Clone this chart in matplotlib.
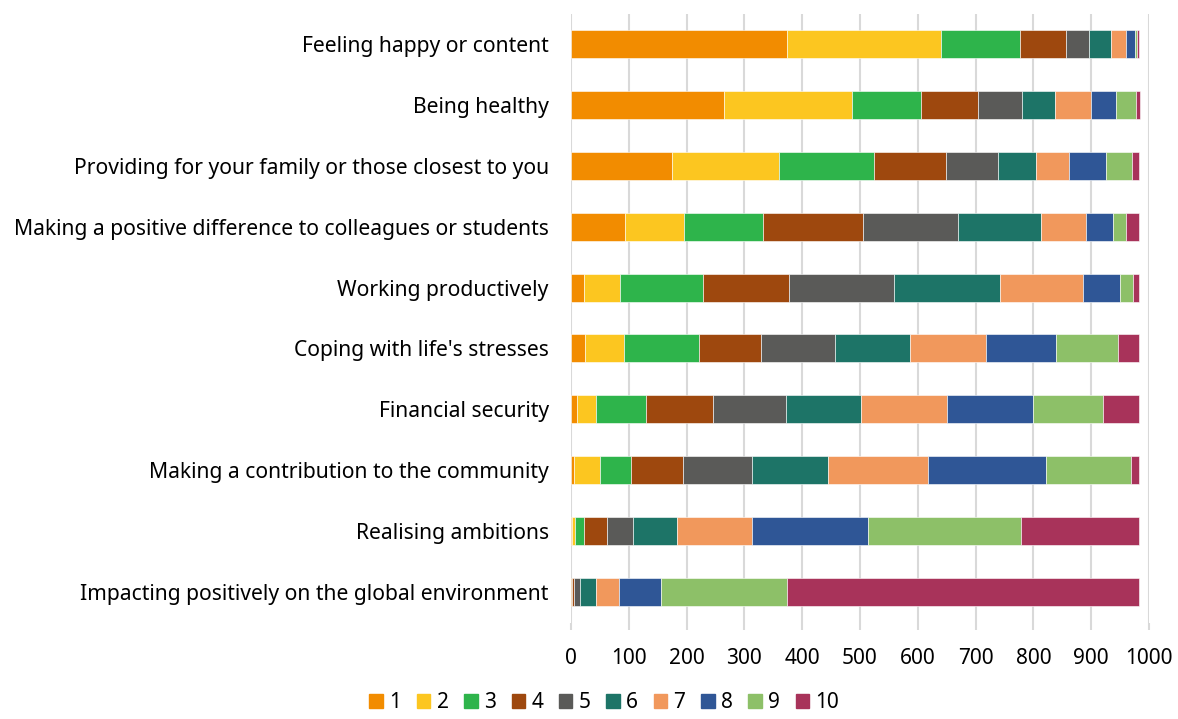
import matplotlib.pyplot as plt
from matplotlib.patches import Patch

plt.rcParams['font.family'] = ['Noto Sans', 'DejaVu Sans']

# Data
categories = [
    'Feeling happy or content',
    'Being healthy',
    'Providing for your family or those closest to you',
    'Making a positive difference to colleagues or students',
    'Working productively',
    "Coping with life's stresses",
    'Financial security',
    'Making a contribution to the community',
    'Realising ambitions',
    'Impacting positively on the global environment',
]
ranks = ['1', '2', '3', '4', '5', '6', '7', '8', '9', '10']

# counts per rank (columns) for each category (rows)
rank_1 = [374, 264, 175, 94, 23, 25, 11, 6, 1, 1]
rank_2 = [266, 223, 185, 102, 62, 66, 33, 45, 6, 0]
rank_3 = [136, 119, 165, 137, 143, 130, 86, 53, 16, 1]
rank_4 = [80, 98, 124, 173, 150, 107, 115, 90, 39, 3]
rank_5 = [40, 77, 89, 164, 180, 129, 127, 120, 45, 10]
rank_6 = [39, 57, 66, 143, 184, 130, 129, 130, 77, 29]
rank_7 = [25, 61, 58, 78, 144, 131, 149, 173, 129, 39]
rank_8 = [16, 44, 63, 46, 63, 121, 150, 205, 201, 72]
rank_9 = [4, 34, 46, 23, 23, 107, 120, 146, 265, 219]
rank_10 = [3, 7, 12, 23, 11, 37, 63, 15, 204, 609]
series = [rank_1, rank_2, rank_3, rank_4, rank_5, rank_6, rank_7, rank_8, rank_9, rank_10]

colors = ['#F28C00', '#FCC620', '#2EB44B', '#9E480E', '#5A5A58',
          '#1D7467', '#F1985C', '#2F5696', '#8DC068', '#A8335A']

fig = plt.figure(figsize=(11.78, 7.19), dpi=100)
ax = fig.add_axes([0.4847, 0.1342, 0.4907, 0.847])

y = list(range(len(categories)))
left = [0] * len(categories)
for vals, c in zip(series, colors):
    ax.barh(y, vals, left=left, height=0.46, color=c, edgecolor='white',
            linewidth=0.4, zorder=3)
    left = [l + v for l, v in zip(left, vals)]

ax.set_yticks(y)
ax.set_yticklabels(categories, fontsize=15.2)
ax.set_ylim(9.5, -0.5)
ax.set_xlim(0, 1000)
ax.set_xticks(range(0, 1001, 100))
ax.tick_params(axis='x', labelsize=15, length=5, color='#d9d9d9', width=1.5, pad=13)
ax.tick_params(axis='y', length=0, pad=16)
ax.grid(axis='x', color='#d9d9d9', linewidth=1.5, zorder=0)
for s in ax.spines.values():
    s.set_visible(False)

handles = [Patch(color=c, label=r) for c, r in zip(colors, ranks)]
fig.legend(handles=handles, loc='lower center', bbox_to_anchor=(0.513, -0.018),
           ncol=10, frameon=False, fontsize=15, handlelength=0.65, handleheight=0.65,
           handletextpad=0.3, columnspacing=0.75)

fig.savefig('out.png', dpi=100)
